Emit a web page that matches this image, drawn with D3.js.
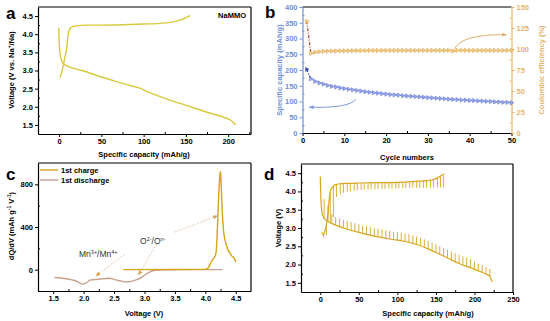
<!DOCTYPE html>
<html>
<head>
<meta charset="utf-8">
<script src="https://cdn.jsdelivr.net/npm/d3@7"></script>
<style>
body{margin:0;background:#fff}
text{font-family:"Liberation Sans",Arial,sans-serif}
</style>
</head>
<body>
<svg id="fig" width="550" height="321"></svg>
<script>
// ---- panel a: first charge / discharge
var aChargeCap = [1, 3, 5, 7, 9, 10, 11, 12.5, 15, 20, 30, 50, 75, 100, 120, 135, 145, 155];
var aChargeV   = [2.8, 2.95, 3.15, 3.38, 3.62, 3.85, 4.05, 4.14, 4.2, 4.23, 4.25, 4.25, 4.26, 4.28, 4.3, 4.34, 4.4, 4.51];
var aDischCap  = [-0.5, 0, 0.5, 1.5, 3.5, 6, 10, 20, 30, 50, 70, 88, 97, 103, 115, 130, 150, 175, 195, 203, 209];
var aDischV    = [4.18, 3.9, 3.6, 3.4, 3.25, 3.17, 3.12, 3.04, 2.98, 2.82, 2.68, 2.56, 2.5, 2.43, 2.32, 2.19, 2.04, 1.85, 1.71, 1.63, 1.5];

// ---- panel b: cycling
var bCycles   = d3.range(1, 51);
var bCapacity = [202, 172, 164, 159, 155, 151, 148, 146, 143, 141,
                 139, 137, 135, 133, 131, 129.5, 128, 126.5, 125, 123.5,
                 122, 121, 120, 118.5, 117.5, 116.5, 115.5, 114.5, 113.5, 112.5,
                 111.5, 110.5, 109.5, 108.5, 107.5, 106.5, 106, 105, 104.5, 103.5,
                 103, 102, 101.5, 100.5, 100, 99, 98.5, 97.5, 97, 96];
var bCE       = [133, 95, 96.2, 96.8, 97.2, 97.4, 97.6, 97.7, 97.8, 97.9,
                 98, 98, 98.1, 98.1, 98.1, 98.2, 98.2, 98.2, 98.2, 98.3,
                 98.3, 98.3, 98.3, 98.3, 98.3, 98.3, 98.3, 98.3, 98.3, 98.3,
                 98.3, 98.3, 98.3, 98.3, 98.3, 97.6, 98.3, 98.3, 98.3, 98.3,
                 98.3, 98.3, 98.3, 98.3, 98.3, 98.3, 98.3, 98.3, 98.3, 98.3];
var bLeftTicks  = [0, 50, 100, 150, 200, 250, 300, 350, 400];
var bRightTicks = [0, 25, 50, 75, 100, 125, 150];

// ---- panel c: dQ/dV
var cChargeV   = [2.65, 3.5, 4.0, 4.04, 4.08, 4.12, 4.16, 4.18, 4.2, 4.22, 4.24, 4.25, 4.26, 4.28, 4.3, 4.33, 4.37, 4.41, 4.44, 4.47, 4.5];
var cChargeDQ  = [0, 1, 3, 12, 55, 95, 125, 180, 420, 700, 890, 920, 800, 520, 360, 260, 190, 150, 125, 110, 70];
var cDischV    = [1.52, 1.65, 1.81, 1.9, 1.98, 2.03, 2.12, 2.25, 2.42, 2.53, 2.62, 2.7, 2.78, 2.86, 2.97, 3.08, 3.19, 3.35, 3.6, 4.0, 4.28];
var cDischDQ   = [-74, -80, -96, -112, -136, -128, -96, -90, -80, -96, -108, -115, -110, -96, -65, -22, -6, -2, 0, 0, 0];

// ---- panel d: GITT
var dChgCap  = [2, 4, 6, 8, 10, 11, 12, 13, 15, 17, 21, 26, 35, 50, 75, 100, 120, 135, 145, 152, 156, 160];
var dChgV    = [2.88, 2.82, 2.92, 3.1, 3.4, 3.65, 3.85, 4.0, 4.1, 4.15, 4.19, 4.21, 4.22, 4.23, 4.24, 4.25, 4.27, 4.29, 4.32, 4.37, 4.42, 4.48];
var dChgPulseCap = [4, 8, 13, 17, 21, 26, 30, 35, 39, 44, 48, 53, 57, 62, 66, 71, 75, 80, 84, 89, 93, 98, 102, 107, 111, 116, 120, 125, 129, 134, 138, 143, 147, 152, 156, 160];
var dChgPulseV   = [2.85, 3.1, 4.0, 4.15, 4.19, 4.21, 4.22, 4.22, 4.22, 4.23, 4.23, 4.23, 4.23, 4.23, 4.24, 4.24, 4.24, 4.24, 4.24, 4.25, 4.25, 4.25, 4.25, 4.26, 4.26, 4.26, 4.27, 4.27, 4.28, 4.29, 4.3, 4.32, 4.34, 4.37, 4.42, 4.48];
var dChgRestV    = [2.74, 2.8, 3.15, 3.3, 3.85, 3.92, 3.96, 3.99, 4.01, 4.02, 4.03, 4.04, 4.05, 4.05, 4.06, 4.06, 4.07, 4.07, 4.07, 4.08, 4.08, 4.08, 4.09, 4.09, 4.09, 4.1, 4.1, 4.1, 4.1, 4.1, 4.1, 4.1, 4.11, 4.11, 4.11, 4.11];
var dDisCap  = [0, 0.5, 1, 2, 4, 7, 12, 20, 30, 50, 70, 90, 110, 125, 140, 155, 165, 180, 200, 215, 220, 223];
var dDisV    = [4.41, 4.0, 3.7, 3.45, 3.3, 3.22, 3.15, 3.08, 3.0, 2.88, 2.78, 2.7, 2.63, 2.55, 2.43, 2.28, 2.18, 2.03, 1.87, 1.74, 1.68, 1.52];
var dDisPulseCap = [5, 10, 15, 20, 25, 30, 35, 40, 45, 50, 55, 60, 65, 70, 75, 80, 85, 90, 95, 100, 105, 110, 115, 120, 125, 130, 135, 140, 145, 150, 155, 160, 165, 170, 175, 180, 185, 190, 195, 200, 205, 210, 215, 220];
var dDisPulseV   = [3.25, 3.17, 3.12, 3.08, 3.04, 3.0, 2.97, 2.94, 2.91, 2.88, 2.85, 2.83, 2.8, 2.78, 2.76, 2.74, 2.72, 2.7, 2.68, 2.67, 2.65, 2.63, 2.61, 2.58, 2.55, 2.51, 2.47, 2.43, 2.38, 2.33, 2.28, 2.23, 2.18, 2.13, 2.08, 2.03, 1.99, 1.95, 1.91, 1.87, 1.83, 1.79, 1.74, 1.68];
var dDisRestV    = [3.8, 3.62, 3.38, 3.3, 3.26, 3.22, 3.19, 3.16, 3.13, 3.1, 3.07, 3.05, 3.02, 3.0, 2.98, 2.96, 2.94, 2.92, 2.9, 2.89, 2.87, 2.85, 2.83, 2.8, 2.77, 2.73, 2.69, 2.65, 2.6, 2.55, 2.5, 2.45, 2.41, 2.36, 2.31, 2.27, 2.23, 2.19, 2.15, 2.08, 2.03, 1.98, 1.93, 1.88];

var svg = d3.select("#fig");
var BLUE = "#6f8fd8", ORANGE = "#e6b46a";

function drawAxis(scale, orient, at, major, minor, fmt, color) {
	var mk = {bottom: d3.axisBottom, left: d3.axisLeft, right: d3.axisRight}[orient];
	var tr = orient === "bottom" ? "translate(0," + at + ")" : "translate(" + at + ",0)";
	var g = svg.append("g").attr("transform", tr);
	g.call(mk(scale).tickValues(major).tickFormat(fmt).tickSize(3).tickSizeOuter(0).tickPadding(2));
	if (minor) {
		var m = g.append("g").call(mk(scale).tickValues(minor).tickFormat("").tickSize(-2).tickSizeOuter(0));
		m.select(".domain").remove();
	}
	g.selectAll(".domain").attr("stroke", color).attr("stroke-width", 1.2);
	g.selectAll("line").attr("stroke", color).attr("stroke-width", 1);
	g.selectAll("text").attr("fill", color).attr("font-size", 7.5).attr("font-weight", "bold");
	return g;
}

function frameTopRight(x0, y0, x1, y1, right) {
	svg.append("line").attr("x1", x0).attr("x2", x1).attr("y1", y0).attr("y2", y0).attr("stroke", "#000").attr("stroke-width", 1.2);
	if (right) svg.append("line").attr("x1", x1).attr("x2", x1).attr("y1", y0).attr("y2", y1).attr("stroke", "#000").attr("stroke-width", 1.2);
}

function label(txt, x, y, size, opts) {
	var t = svg.append("text").attr("x", x).attr("y", y).attr("font-size", size)
		.attr("font-weight", (opts && opts.weight) || "bold")
		.attr("fill", (opts && opts.color) || "#000")
		.attr("text-anchor", (opts && opts.anchor) || "start");
	if (opts && opts.rotate) t.attr("transform", "rotate(-90," + x + "," + y + ")");
	if (Array.isArray(txt)) {
		txt.forEach(function (p) {
			var s = t.append("tspan").text(p.t);
			if (p.sup) s.attr("font-size", size * 0.65).attr("dy", -size * 0.38);
			if (p.back) s.attr("dy", size * 0.38);
		});
	} else t.text(txt);
	return t;
}

function zipXY(xs, ys) { return xs.map(function (v, i) { return [v, ys[i]]; }); }

// ================= panel a
var ax = d3.scaleLinear().domain([-25, 227]).range([38, 251]);
var ay = d3.scaleLinear().domain([1.25, 4.75]).range([134, 7]);
frameTopRight(38, 7, 251, 134, true);
drawAxis(ax, "bottom", 134, [0, 50, 100, 150, 200], [-25, 25, 75, 125, 175, 225], d3.format("d"), "#000");
drawAxis(ay, "left", 38, [1.5, 2, 2.5, 3, 3.5, 4, 4.5], [1.75, 2.25, 2.75, 3.25, 3.75, 4.25], d3.format(".1f"), "#000");
var aLine = d3.line().x(function (d) { return ax(d[0]); }).y(function (d) { return ay(d[1]); }).curve(d3.curveMonotoneX);
svg.append("path").attr("d", aLine(zipXY(aChargeCap, aChargeV))).attr("fill", "none").attr("stroke", "#d8c93c").attr("stroke-width", 1.4);
svg.append("path").attr("d", aLine(zipXY(aDischCap, aDischV))).attr("fill", "none").attr("stroke", "#d8c93c").attr("stroke-width", 1.4);
label("NaMMO", 246, 18, 7.5, {anchor: "end"});
label("Specific capacity (mAh/g)", 144, 157, 7.5, {anchor: "middle"});
label([{t: "Voltage (V vs. Na"}, {t: "+", sup: true}, {t: "/Na)", back: true}], 14, 70, 7.5, {anchor: "middle", rotate: true});
label("a", 6, 19, 17);

// ================= panel b
var bx = d3.scaleLinear().domain([0, 50]).range([302.5, 511.5]);
var byL = d3.scaleLinear().domain([0, 400]).range([133, 7]);
var byR = d3.scaleLinear().domain([0, 150]).range([133, 7]);
frameTopRight(302.5, 7, 511.5, 133, false);
drawAxis(bx, "bottom", 133, [0, 10, 20, 30, 40, 50], [5, 15, 25, 35, 45], d3.format("d"), "#000");
drawAxis(byL, "left", 302.5, bLeftTicks, [25, 75, 125, 175, 225, 275, 325, 375], d3.format("d"), BLUE);
drawAxis(byR, "right", 511.5, bRightTicks, [12.5, 37.5, 62.5, 87.5, 112.5, 137.5], d3.format("d"), ORANGE);

var capPts = zipXY(bCycles, bCapacity), cePts = zipXY(bCycles, bCE);
var bLineL = d3.line().x(function (d) { return bx(d[0]); }).y(function (d) { return byL(d[1]); });
var bLineR = d3.line().x(function (d) { return bx(d[0]); }).y(function (d) { return byR(d[1]); });
svg.append("path").attr("d", bLineL(capPts.slice(1))).attr("fill", "none").attr("stroke", "#6a7ed6").attr("stroke-width", 0.6);
svg.append("path").attr("d", bLineR(cePts.slice(1))).attr("fill", "none").attr("stroke", "#dca850").attr("stroke-width", 0.6);
svg.append("path").attr("d", bLineL(capPts.slice(0, 2))).attr("fill", "none").attr("stroke", "#1f2fa0").attr("stroke-width", 1.2).attr("stroke-dasharray", "3,1.5,1,1.5");
svg.append("path").attr("d", bLineR(cePts.slice(0, 2))).attr("fill", "none").attr("stroke", "#b0402a").attr("stroke-width", 1.2).attr("stroke-dasharray", "3,1.5,1,1.5");
var tri = d3.symbol().type(d3.symbolTriangle).size(8);
svg.append("g").selectAll("path").data(capPts).enter().append("path")
	.attr("d", tri).attr("transform", function (d) { return "translate(" + bx(d[0]) + "," + byL(d[1]) + ") rotate(90)"; })
	.attr("fill", function (d, i) { return i === 0 ? "#3040c0" : "#9aa8ea"; }).attr("stroke", "#5a6cd0").attr("stroke-width", 0.5);
svg.append("g").selectAll("path").data(cePts).enter().append("path")
	.attr("d", tri).attr("transform", function (d) { return "translate(" + bx(d[0]) + "," + byR(d[1]) + ") rotate(90)"; })
	.attr("fill", "#f4d08a").attr("stroke", "#d49a3a").attr("stroke-width", 0.5);

var defs = svg.append("defs");
function arrowMarker(id, color, size) {
	defs.append("marker").attr("id", id).attr("viewBox", "0 0 10 10").attr("refX", 9).attr("refY", 5)
		.attr("markerWidth", size).attr("markerHeight", size).attr("orient", "auto-start-reverse").attr("markerUnits", "userSpaceOnUse")
		.append("path").attr("d", "M0,1 L10,5 L0,9 Z").attr("fill", color);
}
arrowMarker("arB", "#7f9ad8", 5);
arrowMarker("arO", "#e0b070", 5);
arrowMarker("arC", "#d9a04a", 5);
svg.append("path").attr("d", "M" + bx(12.8) + "," + byL(107) + " Q" + bx(11) + "," + byL(78) + " " + bx(1.6) + "," + byL(82))
	.attr("fill", "none").attr("stroke", "#7f9ad8").attr("stroke-width", 1).attr("marker-end", "url(#arB)");
svg.append("path").attr("d", "M" + bx(36.3) + "," + byR(99.5) + " Q" + bx(38) + "," + byR(118) + " " + bx(48.8) + "," + byR(117))
	.attr("fill", "none").attr("stroke", "#e0b070").attr("stroke-width", 1).attr("marker-end", "url(#arO)");

label("Cycle numbers", 407, 160, 7.5, {anchor: "middle"});
label("Specific capacity (mAh/g)", 282, 70, 7.5, {anchor: "middle", rotate: true, color: BLUE});
label("Coulombic efficiency (%)", 544, 70, 7.5, {anchor: "middle", rotate: true, color: ORANGE});
label("b", 265, 18, 17);

// ================= panel c
var cx = d3.scaleLinear().domain([1.25, 4.75]).range([38, 251]);
var cy = d3.scaleLinear().domain([-200, 1000]).range([291, 163]);
frameTopRight(38, 163, 251, 291, true);
drawAxis(cx, "bottom", 291, [1.5, 2, 2.5, 3, 3.5, 4, 4.5], [1.75, 2.25, 2.75, 3.25, 3.75, 4.25], d3.format(".1f"), "#000");
drawAxis(cy, "left", 38, [0, 400, 800], [-200, 200, 600], d3.format("d"), "#000");
var cLine = d3.line().x(function (d) { return cx(d[0]); }).y(function (d) { return cy(d[1]); }).curve(d3.curveMonotoneX);
svg.append("path").attr("d", cLine(zipXY(cDischV, cDischDQ))).attr("fill", "none").attr("stroke", "#c9a08e").attr("stroke-width", 1.4);
svg.append("path").attr("d", cLine(zipXY(cChargeV, cChargeDQ))).attr("fill", "none").attr("stroke", "#d6a418").attr("stroke-width", 1.4);

svg.append("line").attr("x1", 40).attr("x2", 58).attr("y1", 170).attr("y2", 170).attr("stroke", "#d6a418").attr("stroke-width", 1.4);
svg.append("line").attr("x1", 40).attr("x2", 58).attr("y1", 180).attr("y2", 180).attr("stroke", "#c9a08e").attr("stroke-width", 1.4);
label("1st charge", 61, 173, 7.5);
label("1st discharge", 61, 183, 7.5);

function dotArrow(x0, y0, x1, y1) {
	svg.append("line").attr("x1", cx(x0)).attr("y1", cy(y0)).attr("x2", cx(x1)).attr("y2", cy(y1))
		.attr("stroke", "#dcc0a0").attr("stroke-width", 1).attr("stroke-dasharray", "1.5,1.5").attr("marker-end", "url(#arC)");
}
dotArrow(2.67, 142, 2.2, -58);
dotArrow(3.2, 240, 2.9, -50);
dotArrow(3.5, 352, 4.2, 505);
label([{t: "Mn"}, {t: "3+", sup: true}, {t: "/Mn", back: true}, {t: "4+", sup: true}], 79, 257, 8.5, {weight: "normal", color: "#333"});
label([{t: "O"}, {t: "2-", sup: true}, {t: "/O", back: true}, {t: "n-", sup: true}], 140, 244, 8.5, {weight: "normal", color: "#333"});
label([{t: "dQ/dV (mAh g"}, {t: "-1", sup: true}, {t: " V", back: true}, {t: "-1", sup: true}, {t: ")", back: true}], 14, 226, 7.5, {anchor: "middle", rotate: true});
label("Voltage (V)", 144, 316, 7.5, {anchor: "middle"});
label("c", 6, 180, 17);

// ================= panel d
var dx = d3.scaleLinear().domain([-25, 250]).range([301, 513]);
var dy = d3.scaleLinear().domain([1.25, 4.75]).range([292, 164]);
frameTopRight(301, 164, 513, 292, true);
drawAxis(dx, "bottom", 292, [0, 50, 100, 150, 200, 250], [25, 75, 125, 175, 225], d3.format("d"), "#000");
drawAxis(dy, "left", 301, [1.5, 2, 2.5, 3, 3.5, 4, 4.5], [1.75, 2.25, 2.75, 3.25, 3.75, 4.25], d3.format(".1f"), "#000");
var GOLD = "#d9a520";
var dLine = d3.line().x(function (d) { return dx(d[0]); }).y(function (d) { return dy(d[1]); }).curve(d3.curveMonotoneX);
svg.append("path").attr("d", dLine(zipXY(dChgCap, dChgV))).attr("fill", "none").attr("stroke", GOLD).attr("stroke-width", 1.2);
svg.append("path").attr("d", dLine(zipXY(dDisCap, dDisV))).attr("fill", "none").attr("stroke", GOLD).attr("stroke-width", 1.2);
function spikes(caps, tops, rests) {
	svg.append("g").selectAll("line").data(caps).enter().append("line")
		.attr("x1", function (d) { return dx(d); }).attr("x2", function (d) { return dx(d); })
		.attr("y1", function (d, i) { return dy(tops[i]); }).attr("y2", function (d, i) { return dy(rests[i]); })
		.attr("stroke", GOLD).attr("stroke-width", 0.9);
}
spikes(dChgPulseCap, dChgPulseV, dChgRestV);
spikes(dDisPulseCap, dDisPulseV, dDisRestV);
label("Specific capacity (mAh/g)", 428, 316, 7.5, {anchor: "middle"});
label("Voltage (V)", 281, 228, 7.5, {anchor: "middle", rotate: true});
label("d", 264, 180, 17);
</script>
</body>
</html>
